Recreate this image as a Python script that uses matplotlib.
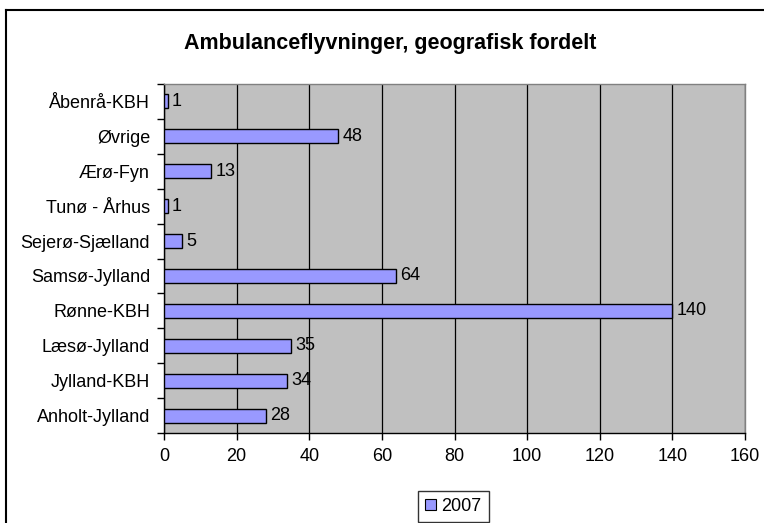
import matplotlib
matplotlib.use("Agg")
import matplotlib.pyplot as plt
from matplotlib.lines import Line2D
from matplotlib.patches import Patch
import numpy as np

plt.rcParams['font.family'] = ['Liberation Sans', 'DejaVu Sans']

categories = ["Anholt-Jylland", "Jylland-KBH", "Læsø-Jylland", "Rønne-KBH",
              "Samsø-Jylland", "Sejerø-Sjælland", "Tunø - Århus", "Ærø-Fyn",
              "Øvrige", "Åbenrå-KBH"]
values_2007 = [28, 34, 35, 140, 64, 5, 1, 13, 48, 1]
series_name = "2007"
title = "Ambulanceflyvninger, geografisk fordelt"
x_ticks = [0, 20, 40, 60, 80, 100, 120, 140, 160]

W, H = 764, 523
fig = plt.figure(figsize=(W / 100, H / 100), dpi=100)
fig.patch.set_facecolor('white')

left, right, top, bottom = 164, 745, 84, 433
ax = fig.add_axes([left / W, 1 - bottom / H, (right - left) / W, (bottom - top) / H])
ax.set_facecolor('#C0C0C0')

y = np.arange(len(categories))
ax.barh(y, values_2007, height=0.4, color='#9999FF', edgecolor='black',
        linewidth=1.0, zorder=3)
for yi, v in zip(y, values_2007):
    ax.annotate(str(v), xy=(v, yi), xytext=(3, 0), textcoords='offset points',
                ha='left', va='center', fontsize=13, zorder=4)

ax.set_xlim(0, 160)
ax.set_ylim(-0.5, len(categories) - 0.5)
ax.set_xticks(x_ticks)
ax.set_xticklabels([str(t) for t in x_ticks], fontsize=13)
ax.set_yticks(y)
ax.set_yticklabels(categories, fontsize=13)
ax.set_yticks(np.arange(-0.5, len(categories), 1.0), minor=True)
ax.tick_params(axis='y', which='major', length=0, pad=10)
ax.tick_params(axis='y', which='minor', length=5, width=1, color='black', direction='out')
ax.tick_params(axis='x', which='major', length=5, width=1, color='black', direction='out', pad=6)

ax.grid(axis='x', color='black', linewidth=0.9, zorder=1)
ax.set_axisbelow(True)
for s in ['top', 'right']:
    ax.spines[s].set_color('#808080')
    ax.spines[s].set_linewidth(1.0)
for s in ['left', 'bottom']:
    ax.spines[s].set_color('black')
    ax.spines[s].set_linewidth(1.0)

fig.text(390 / W, 1 - 44 / H, title, ha='center', va='center',
         fontsize=15.5, fontweight='bold')

handle = Patch(facecolor='#9999FF', edgecolor='black', linewidth=0.8)
leg = fig.legend([handle], [series_name], loc='center',
                 bbox_to_anchor=(453.5 / W, 1 - 506.5 / H), fontsize=13,
                 frameon=True, fancybox=False, handlelength=0.6, handleheight=0.6,
                 handletextpad=0.3, borderpad=0.4, borderaxespad=0)
leg.get_frame().set_edgecolor('black')
leg.get_frame().set_linewidth(1.0)

# chart border (right and bottom outside the image)
fig.add_artist(Line2D([6 / W, 6 / W], [0, 1 - 9.5 / H], color='black', lw=1.5,
                      transform=fig.transFigure))
fig.add_artist(Line2D([6 / W, 1], [1 - 9.5 / H, 1 - 9.5 / H], color='black', lw=1.5,
                      transform=fig.transFigure))

fig.savefig('out.png', dpi=100)
